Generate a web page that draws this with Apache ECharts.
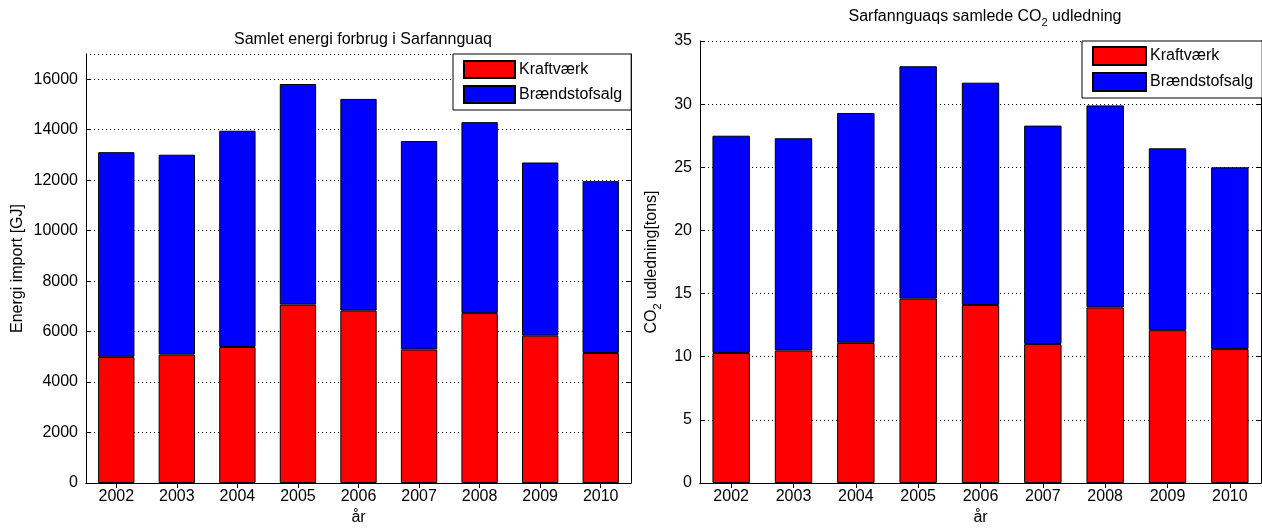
<!DOCTYPE html>
<html>
<head>
<meta charset="utf-8">
<title>Sarfannguaq energi og CO2</title>
<script src="https://cdn.jsdelivr.net/npm/echarts@6/dist/echarts.min.js"></script>
<style>
    html, body { margin: 0; padding: 0; background: #fff; }
    #chart { width: 1262px; height: 531px; }
</style>
</head>
<body>
<div id="chart"></div>
<script>
// data
var years = ['2002', '2003', '2004', '2005', '2006', '2007', '2008', '2009', '2010'];
var seriesNames = ['Kraftværk', 'Brændstofsalg'];

// energi import [GJ]
var energiKraftvaerk = [5000, 5090, 5390, 7070, 6830, 5290, 6730, 5840, 5150];
var energiBraendstof = [8110, 7920, 8570, 8740, 8390, 8260, 7570, 6860, 6810];
var energiTicks = { min: 0, max: 17000, interval: 2000 };

// CO2 udledning [tons]
var co2Kraftvaerk = [10.3, 10.5, 11.1, 14.6, 14.1, 11.0, 13.9, 12.1, 10.6];
var co2Braendstof = [17.2, 16.8, 18.2, 18.4, 17.6, 17.3, 16.0, 14.4, 14.4];
var co2Ticks = { min: 0, max: 35, interval: 5 };

var FONT = '"Liberation Sans", Arial, sans-serif';
var RED = '#ff0000';
var BLUE = '#0000ff';

var subRich = {
    a: { fontSize: 16, fontFamily: FONT, color: '#000', verticalAlign: 'top', lineHeight: 18 },
    s: { fontSize: 11, fontFamily: FONT, color: '#000', verticalAlign: 'top', lineHeight: 11, padding: [8, 0, 0, 0] }
};

function catAxis(grid, pos, showLabel, name) {
    return {
        type: 'category',
        gridIndex: grid,
        position: pos,
        data: years,
        boundaryGap: true,
        name: name || '',
        nameLocation: 'middle',
        nameGap: 27,
        nameTextStyle: { fontSize: 16, fontFamily: FONT, color: '#000' },
        axisLine: { show: true, lineStyle: { color: '#000', width: 1 } },
        axisTick: { show: true, inside: true, alignWithLabel: true, length: 5, lineStyle: { color: '#000' } },
        axisLabel: { show: showLabel, fontSize: 16, fontFamily: FONT, color: '#000', margin: 6 },
        splitLine: { show: false }
    };
}

function valAxis(grid, pos, ticks, showLabel, name, gap, rich) {
    return {
        type: 'value',
        gridIndex: grid,
        position: pos,
        min: ticks.min,
        max: ticks.max,
        interval: ticks.interval,
        name: name || '',
        nameLocation: 'middle',
        nameRotate: 90,
        nameGap: gap || 0,
        nameTextStyle: { fontSize: 16, fontFamily: FONT, color: '#000', rich: rich || {} },
        axisLine: { show: true, lineStyle: { color: '#000', width: 1 } },
        axisTick: { show: true, inside: true, length: 5, lineStyle: { color: '#000' } },
        axisLabel: {
            show: showLabel, fontSize: 16, fontFamily: FONT, color: '#000', margin: 8,
            showMaxLabel: ticks.max % ticks.interval === 0,
            formatter: function (v) { return String(v); }
        },
        splitLine: { show: showLabel, lineStyle: { color: '#000', width: 1, type: [1, 3] } }
    };
}

function barSeries(name, data, grid, stack) {
    return {
        name: name,
        type: 'bar',
        stack: stack,
        xAxisIndex: grid * 2,
        yAxisIndex: grid * 2,
        data: data,
        barWidth: '60%',
        itemStyle: { color: name === seriesNames[0] ? RED : BLUE, borderColor: '#000', borderWidth: 1 },
        emphasis: { disabled: true }
    };
}

function legendBox(left, top, w, h, pad) {
    return {
        orient: 'vertical',
        left: left,
        top: top,
        data: seriesNames,
        icon: 'rect',
        itemWidth: w,
        itemHeight: h,
        itemGap: 6,
        padding: pad,
        backgroundColor: '#fff',
        borderColor: '#000',
        borderWidth: 1,
        borderRadius: 0,
        selectedMode: false,
        textStyle: { fontSize: 16, fontFamily: FONT, color: '#000', padding: [0, 0, 0, -1] }
    };
}

var dom = document.getElementById('chart');
var chart = echarts.init(dom, null, { renderer: 'canvas' });

var option = {
    backgroundColor: '#fff',
    animation: false,
    title: [
        {
            text: 'Samlet energi forbrug i Sarfannguaq',
            left: 358, top: 27, textAlign: 'center',
            textStyle: { fontSize: 16, fontWeight: 'normal', fontFamily: FONT, color: '#000' }
        },
        {
            text: '{a|Sarfannguaqs samlede CO}{s|2}{a| udledning}',
            left: 980, top: 4, textAlign: 'center',
            textStyle: { fontSize: 16, fontWeight: 'normal', fontFamily: FONT, color: '#000', rich: subRich }
        }
    ],
    grid: [
        { left: 86, top: 54, right: 631, bottom: 44, containLabel: false },
        { left: 700, top: 41, right: 1, bottom: 45, containLabel: false }
    ],
    xAxis: [
        catAxis(0, 'bottom', true, 'år'),
        catAxis(0, 'top', false),
        catAxis(1, 'bottom', true, 'år'),
        catAxis(1, 'top', false)
    ],
    yAxis: [
        valAxis(0, 'left', energiTicks, true, 'Energi import [GJ]', 60),
        valAxis(0, 'right', energiTicks, false),
        valAxis(1, 'left', co2Ticks, true, '{a|CO}{s|2}{a| udledning[tons]}', 38, subRich),
        valAxis(1, 'right', co2Ticks, false)
    ],
    legend: [
        legendBox(453, 54, 51, 17, [6, 9, 6, 10]),
        legendBox(1082, 41, 53, 18, [5, 9, 6, 10])
    ],
    series: [
        barSeries(seriesNames[0], energiKraftvaerk, 0, 'energi'),
        barSeries(seriesNames[1], energiBraendstof, 0, 'energi'),
        barSeries(seriesNames[0], co2Kraftvaerk, 1, 'co2'),
        barSeries(seriesNames[1], co2Braendstof, 1, 'co2')
    ]
};

if (option && typeof option === 'object') {
    chart.setOption(option, false);
}
</script>
</body>
</html>
